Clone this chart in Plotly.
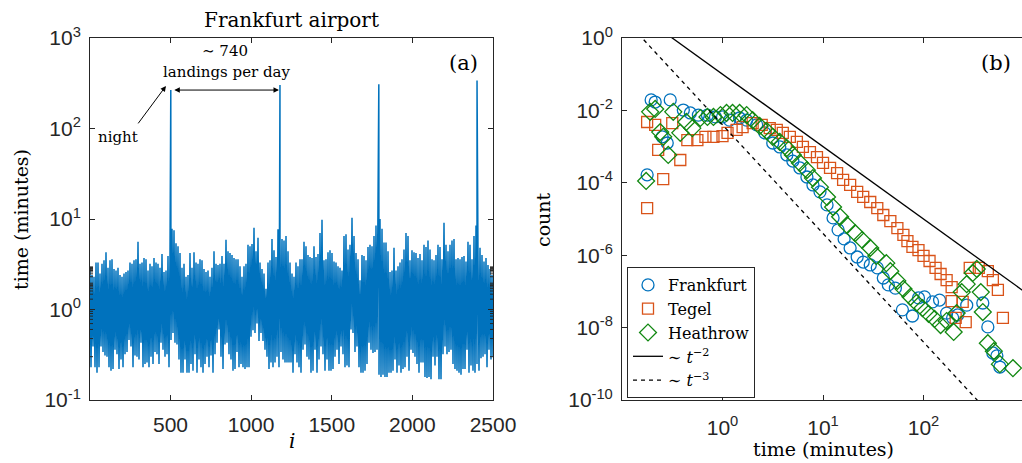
import numpy as np
import plotly.graph_objects as go

# ---------------- panel (a): Frankfurt inter-landing times ----------------
# Envelope: per ~2-pixel column, the upper and lower extreme (minutes)
col_high = [
    2.9,2.4,2.3,3.3,3.3,2.5,3.2,3.5,4.3,2.9,
    3.5,3.6,2.8,2.7,2.9,2.4,2.3,2.5,2.6,2.7,
    3.3,3.2,3.5,3.6,5.6,3.2,3.3,3.7,3.6,2.7,
    3.2,3.0,3.7,3.3,3.2,2.9,4.1,2.6,2.7,3.9,
    4.2,7.8,7.5,5.4,5.0,4.2,2.9,3.2,2.3,2.4,
    4.2,2.9,
    4.3,3.3,3.2,3.6,3.5,2.8,2.6,2.7,2.3,2.9,
    4.4,3.2,3.1,3.2,3.9,3.2,5.9,4.4,4.2,4.0,
    3.7,3.6,3.6,3.0,2.3,3.0,3.2,5.2,5.0,5.3,
    8.0,4.4,6.2,3.3,2.8,2.5,1.7,3.3,3.5,6.0,
    4.5,3.8,7.7,5.5,6.0,5.8,6.5,4.4,3.3,2.5,
    2.3,3.3,3.0,3.6,3.6,5.6,5.0,4.0,3.8,3.7,
    5.0,3.8,4.1,7.0,9.8,3.5,3.6,4.3,4.5,4.2,
    3.4,3.3,3.0,2.9,2.7,6.5,6.8,4.6,5.2,10.3,
    6.5,4.2,3.6,2.1,4.0,3.9,3.5,4.9,5.2,5.0,
    6.5,8.5,6.0,10.0,7.8,5.5,5.5,4.4,2.6,2.7,
    4.8,2.7,3.0,3.3,3.6,4.6,7.0,6.5,3.5,4.5,
    4.3,4.2,3.7,4.1,3.5,5.2,4.9,5.8,4.6,3.6,
    3.5,4.0,5.2,4.9,3.6,9.1,5.2,4.4,5.2,5.8,
    6.0,3.6,3.7,3.6,3.8,3.9,3.4,5.6,5.2,3.6,
    6.5,8.5,4.0,4.8,4.0,3.4,3.7,3.1,2.8,2.4,
]
col_low = [
    0.23,0.39,0.23,0.20,0.23,0.39,0.34,0.31,0.30,0.23,
    0.21,0.22,0.36,0.32,0.22,0.28,0.23,0.32,0.34,0.46,
    0.39,0.23,0.31,0.30,0.28,0.43,0.23,0.25,0.26,0.23,
    0.30,0.25,0.34,0.32,0.25,0.43,0.36,0.30,0.32,0.23,
    0.46,0.55,0.43,0.41,0.28,0.20,0.20,0.28,0.20,0.20,
    0.25,0.21,
    0.32,0.20,0.28,0.23,0.20,0.25,0.30,0.23,0.31,0.20,
    0.32,0.43,0.60,0.30,0.22,0.41,0.43,0.32,0.28,0.21,
    0.22,0.34,0.23,0.25,0.23,0.22,0.23,0.23,0.50,0.59,
    0.55,0.70,0.45,0.55,0.45,0.36,0.30,0.22,0.26,0.23,
    0.26,0.30,0.23,0.34,0.28,0.26,0.26,0.26,0.26,0.20,
    0.32,0.26,0.23,0.20,0.36,0.41,0.30,0.28,0.20,0.21,
    0.36,0.20,0.28,0.39,0.32,0.21,0.28,0.21,0.21,0.22,
    0.30,0.36,0.25,0.39,0.32,0.23,0.24,0.23,0.60,0.55,
    0.34,0.39,0.23,0.20,0.20,0.21,0.25,0.43,0.36,0.33,
    0.34,0.36,0.19,0.18,0.19,0.18,0.18,0.20,0.20,0.21,
    0.28,0.20,0.24,0.20,0.22,0.23,0.30,0.21,0.36,0.33,
    0.30,0.25,0.20,0.26,0.26,0.18,0.175,0.18,0.17,0.30,
    0.24,0.30,0.17,0.17,0.32,0.39,0.32,0.34,0.36,0.25,
    0.22,0.21,0.20,0.19,0.22,0.22,0.36,0.20,0.24,0.21,
    0.20,0.25,0.21,0.29,0.30,0.32,0.23,0.36,0.28,0.30,
]
# night gaps (spikes)
spike_i = [502, 1179, 1792, 2401]
spike_val = [266, 302, 308, 340]

# ---------------- panel (b): distributions ----------------
frankfurt_log_t = [-0.75,-0.71,-0.67,-0.60,-0.55,-0.52,-0.39,-0.32,-0.24,-0.15,-0.07,0.00,0.07,0.17,0.24,
                   0.34,0.42,0.50,0.57,0.64,0.70,0.77,0.84,0.90,0.97,1.04,1.10,1.15,1.21,1.27,1.34,1.40,
                   1.47,1.54,1.60,1.65,1.72,1.79,1.89,1.95,2.01,2.09,2.16,2.23,2.29,2.34,2.43,2.59,2.64,
                   2.69,2.73,2.76]
frankfurt_log_c = [-3.78,-1.71,-1.77,-2.73,-2.90,-1.71,-1.99,-2.07,-2.13,-2.13,-2.18,-2.18,-2.27,-2.21,-2.27,
                   -2.40,-2.62,-2.90,-3.01,-3.23,-3.40,-3.59,-3.84,-4.06,-4.25,-4.61,-4.97,-5.30,-5.55,-5.80,
                   -6.05,-6.19,-6.27,-6.35,-6.63,-6.82,-6.91,-7.51,-7.68,-7.18,-7.15,-7.29,-7.24,-7.60,-7.73,
                   -7.65,-7.38,-7.32,-7.98,-8.70,-8.78,-9.09]
tegel_log_t = [-0.75,-0.75,-0.67,-0.64,-0.59,-0.50,-0.42,-0.35,-0.25,-0.17,-0.09,0.00,0.05,0.14,0.20,0.30,
               0.39,0.47,0.54,0.60,0.67,0.74,0.80,0.87,0.94,1.00,1.07,1.14,1.20,1.27,1.34,1.40,1.47,1.54,
               1.60,1.67,1.74,1.80,1.84,1.89,1.95,2.00,2.06,2.12,2.17,2.23,2.28,2.28,2.39,2.32,2.42,2.46,
               2.55,2.64,2.69,2.74,2.79]
tegel_log_c = [-4.70,-2.32,-2.40,-3.09,-3.90,-2.35,-3.37,-2.82,-2.82,-2.73,-2.73,-2.71,-2.62,-2.54,-2.46,
               -2.35,-2.40,-2.49,-2.54,-2.62,-2.73,-2.87,-3.01,-3.15,-3.29,-3.45,-3.59,-3.73,-3.92,-4.06,
               -4.25,-4.39,-4.53,-4.70,-4.89,-5.06,-5.25,-5.44,-5.61,-5.77,-5.86,-6.02,-6.16,-6.35,-6.52,
               -6.69,-6.88,-7.27,-7.29,-7.73,-7.85,-6.35,-6.35,-6.44,-6.69,-6.96,-7.73]
heathrow_log_t = [-0.76,-0.72,-0.67,-0.62,-0.59,-0.54,-0.49,-0.42,-0.36,-0.30,-0.22,-0.15,-0.09,-0.02,0.04,
                  0.10,0.17,0.24,0.30,0.37,0.44,0.50,0.57,0.64,0.70,0.77,0.84,0.90,0.97,1.04,1.10,1.17,
                  1.24,1.32,1.39,1.47,1.53,1.63,1.67,1.74,1.80,1.87,1.93,1.99,2.05,2.11,2.17,2.23,2.30,
                  2.33,2.38,2.43,2.49,2.53,2.57,2.59,2.64,2.70,2.76,2.89]
heathrow_log_c = [-3.95,-2.04,-1.96,-2.60,-2.73,-3.23,-2.04,-2.62,-2.32,-2.49,-2.21,-2.18,-2.18,-2.13,-2.07,
                  -2.07,-2.07,-2.13,-2.27,-2.43,-2.57,-2.73,-2.87,-3.04,-3.23,-3.45,-3.65,-3.87,-4.12,-4.39,
                  -4.67,-4.94,-5.17,-5.39,-5.58,-5.80,-6.02,-6.22,-6.44,-6.71,-6.93,-7.15,-7.32,-7.46,-7.62,
                  -7.76,-7.93,-7.82,-8.12,-7.60,-7.02,-6.80,-6.49,-6.38,-7.02,-7.57,-8.43,-8.65,-9.01,-9.12]
# reference power laws: count ~ A * t^-k
ref_k = [2, 3]
ref_A = [0.1, 10 ** -2.4]

# ---------------- build series (a) ----------------
zig_val = []
for h, l in zip(col_high, col_low):
    zig_val += [h, l]
zig_i = np.linspace(1, 2500, len(zig_val))
all_i = np.concatenate([zig_i, np.array(spike_i, float)])
all_v = np.concatenate([np.array(zig_val), np.array(spike_val, float)])
order = np.argsort(all_i, kind="stable")
series_i = all_i[order]
series_v = all_v[order]

BLUE = "#0072BD"
ORANGE = "#D95319"
GREEN = "#118811"
AX = "#262626"
SANS = "Liberation Sans"
SERIF = "DejaVu Serif"
TICKFONT = dict(family=SANS, size=21, color=AX)

fig = go.Figure()
fig.add_trace(go.Scatter(x=series_i, y=series_v, mode="lines",
                         line=dict(color=BLUE, width=1.5), showlegend=False,
                         xaxis="x", yaxis="y"))

def logs(a):
    return [10 ** v for v in a]

fig.add_trace(go.Scatter(x=logs(frankfurt_log_t), y=logs(frankfurt_log_c), mode="markers", name="Frankfurt",
                         marker=dict(symbol="circle-open", size=12, color=BLUE, line=dict(width=1.3, color=BLUE)),
                         xaxis="x2", yaxis="y2"))
fig.add_trace(go.Scatter(x=logs(tegel_log_t), y=logs(tegel_log_c), mode="markers", name="Tegel",
                         marker=dict(symbol="square-open", size=11, color=ORANGE, line=dict(width=1.3, color=ORANGE)),
                         xaxis="x2", yaxis="y2"))
fig.add_trace(go.Scatter(x=logs(heathrow_log_t), y=logs(heathrow_log_c), mode="markers", name="Heathrow",
                         marker=dict(symbol="diamond-open", size=13, color=GREEN, line=dict(width=1.3, color=GREEN)),
                         xaxis="x2", yaxis="y2"))
t_ref = np.array([0.1, 1000.0])
for k, A, dash in zip(ref_k, ref_A, ["solid", "4px,4px"]):
    fig.add_trace(go.Scatter(x=t_ref, y=A * t_ref ** (-k), mode="lines",
                             name="∼ <i>t</i><sup>−%d</sup>" % k,
                             line=dict(color="black", width=1.3, dash=dash),
                             xaxis="x2", yaxis="y2"))

W, H = 1022, 463
def px(x): return x / W
def py(y): return 1 - y / H

common = dict(ticks="inside", ticklen=5, tickcolor=AX, showline=True, linecolor=AX, linewidth=1,
              showgrid=False, zeroline=False, tickfont=TICKFONT, automargin=False)

fig.update_layout(
    width=W, height=H, margin=dict(l=0, r=0, t=0, b=0, autoexpand=False),
    paper_bgcolor="white", plot_bgcolor="white",
    font=dict(family=SERIF, size=16, color="black"),
    showlegend=True,
    xaxis=dict(domain=[px(90), px(493)], range=[1, 2500], tickvals=[500, 1000, 1500, 2000, 2500],
               mirror="ticks", ticklabelstandoff=6, **common),
    yaxis=dict(domain=[py(400), py(38)], type="log", range=[-1, 3],
               tickvals=[0.1, 1, 10, 100, 1000],
               ticktext=["10<sup>-1</sup>", "10<sup>0</sup>", "10<sup>1</sup>", "10<sup>2</sup>", "10<sup>3</sup>"],
               mirror="ticks", ticklabelstandoff=4, **common),
    xaxis2=dict(domain=[px(622), 1.0], type="log", range=[-1, 2.98],
                tickvals=[1, 10, 100],
                ticktext=["10<sup>0</sup>", "10<sup>1</sup>", "10<sup>2</sup>"],
                mirror="ticks", ticklabelstandoff=9, anchor="y2", **common),
    yaxis2=dict(domain=[py(400), py(38)], type="log", range=[-10, 0],
                tickvals=[1e-10, 1e-8, 1e-6, 1e-4, 1e-2, 1],
                ticktext=["10<sup>-10</sup>", "10<sup>-8</sup>", "10<sup>-6</sup>", "10<sup>-4</sup>",
                          "10<sup>-2</sup>", "10<sup>0</sup>"],
                mirror=False, ticklabelstandoff=4, anchor="x2", **common),
    legend=dict(x=px(627), y=py(267), xanchor="left", yanchor="top",
                bgcolor="white", bordercolor=AX, borderwidth=1,
                font=dict(family=SERIF, size=16, color="black"),
                tracegroupgap=0, itemwidth=30),
)

# minor log ticks of panel (a), both sides (drawn as short strokes)
tick_frac = 3 / 403
shapes = []
for e in range(-1, 3):
    for m in range(2, 10):
        yv = np.log10(m * 10 ** e)
        for x0, x1 in [(0, tick_frac), (1 - tick_frac, 1)]:
            shapes.append(dict(type="line", xref="x domain", yref="y", x0=x0, x1=x1, y0=yv, y1=yv,
                               line=dict(color=AX, width=1)))
fig.update_layout(shapes=shapes)

ann = []
def text(x, y, s, size, angle=0):
    ann.append(dict(x=px(x), y=py(y), xref="paper", yref="paper", text=s, showarrow=False,
                    font=dict(family=SERIF, size=size, color="black"), textangle=angle,
                    xanchor="center", yanchor="middle"))

text(291, 20, "Frankfurt airport", 20)
text(463, 63, "(a)", 21)
text(996, 63, "(b)", 21)
text(21, 220, "time (minutes)", 19, angle=-90)
text(292, 441, "<i>i</i>", 20)
text(543, 220, "count", 19, angle=-90)
text(823, 449, "time (minutes)", 19)
text(225, 51, "∼ 740", 15)
text(226, 72, "landings per day", 15)
text(118, 137, "night", 15)

# double arrow between two nights
y_arrow = np.log10(266)
ann.append(dict(x=spike_i[1], y=y_arrow, ax=spike_i[0], ay=y_arrow, xref="x", yref="y", axref="x", ayref="y",
                text="", showarrow=True, arrowhead=2, arrowsize=1.1, arrowwidth=1, arrowcolor="black",
                arrowside="end+start", standoff=1, startstandoff=2))
# arrow pointing to the night gap
ann.append(dict(x=472, y=2.47, ax=293, ay=2.04, xref="x", yref="y", axref="x", ayref="y",
                text="", showarrow=True, arrowhead=2, arrowsize=1.1, arrowwidth=1, arrowcolor="black"))

fig.update_layout(annotations=ann)
fig.write_html("out.html", config={"displayModeBar": False},
               post_script="document.body.style.margin='0px';document.body.style.overflow='hidden';")
